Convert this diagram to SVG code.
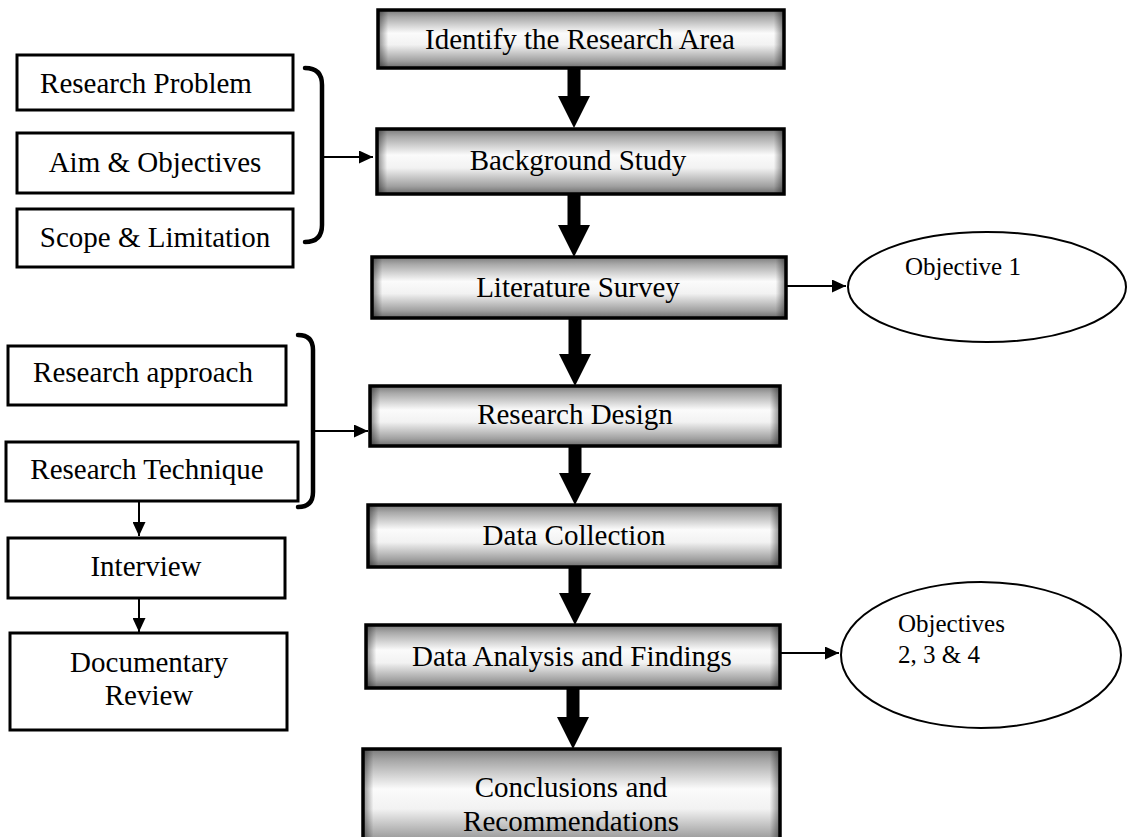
<svg xmlns="http://www.w3.org/2000/svg" width="1130" height="837" viewBox="0 0 1130 837">
<style>
text{font-family:"Liberation Serif","Times New Roman",serif;fill:#000;}
.t{font-size:29px;text-anchor:middle;}
.o{font-size:25px;}
.mb{fill:url(#vg);stroke:#000;stroke-width:3.5;}
.ov{fill:url(#hg);stroke:none;}
.lb{fill:#fff;stroke:#000;stroke-width:3;}
.el{fill:#fff;stroke:#000;stroke-width:2;}
.br{fill:none;stroke:#000;stroke-width:4.5;stroke-linecap:round;}
.ln{fill:none;stroke:#000;stroke-width:2;marker-end:url(#ah);}
.big{fill:#000;}
</style>
<defs>
<linearGradient id="vg" x1="0" y1="0" x2="0" y2="1">
<stop offset="0" stop-color="#7a7a7a"/>
<stop offset="0.12" stop-color="#a9a9a9"/>
<stop offset="0.4" stop-color="#fbfbfb"/>
<stop offset="0.6" stop-color="#f2f2f2"/>
<stop offset="0.88" stop-color="#a0a0a0"/>
<stop offset="1" stop-color="#6a6a6a"/>
</linearGradient>
<linearGradient id="hg" x1="0" y1="0" x2="1" y2="0">
<stop offset="0" stop-color="#000" stop-opacity="0.45"/>
<stop offset="0.025" stop-color="#000" stop-opacity="0"/>
<stop offset="0.975" stop-color="#000" stop-opacity="0"/>
<stop offset="1" stop-color="#000" stop-opacity="0.45"/>
</linearGradient>
<marker id="ah" markerUnits="userSpaceOnUse" markerWidth="14" markerHeight="13" refX="14" refY="6.5" orient="auto">
<path d="M0,0 L14,6.5 L0,13 z" fill="#000"/>
</marker>
</defs>

<g id="connectors">
<polygon class="big" points="567.5,68 580.5,68 580.5,96 590,96 574,128 558,96 567.5,96"/>
<polygon class="big" points="567.5,194 580.5,194 580.5,225 590,225 574,257 558,225 567.5,225"/>
<polygon class="big" points="568.5,318 581.5,318 581.5,354 591,354 575,386 559,354 568.5,354"/>
<polygon class="big" points="568.5,446 581.5,446 581.5,473 591,473 575,505 559,473 568.5,473"/>
<polygon class="big" points="568.5,567 581.5,567 581.5,593 591,593 575,625 559,593 568.5,593"/>
<polygon class="big" points="566.5,688 579.5,688 579.5,717 589,717 573,749 557,717 566.5,717"/>
<path class="br" d="M305,68 Q322,68 322,85 L322,225 Q322,242 305,242"/>
<line class="ln" x1="322" y1="157" x2="373" y2="157"/>
<path class="br" d="M298,335 Q313,335 313,350 L313,492 Q313,507 298,507"/>
<line class="ln" x1="313" y1="431" x2="368" y2="431"/>
<line class="ln" x1="139" y1="502" x2="139" y2="536"/>
<line class="ln" x1="139" y1="599" x2="139" y2="632"/>
<line class="ln" x1="786" y1="286" x2="846" y2="286"/>
<line class="ln" x1="780" y1="653" x2="839" y2="653"/>
</g>

<g id="n-identify">
<rect class="mb" x="378" y="10" width="406" height="58"/>
<rect class="ov" x="378" y="10" width="406" height="58"/>
<text class="t" x="580" y="49">Identify the Research Area</text>
</g>
<g id="n-background">
<rect class="mb" x="377" y="129" width="407" height="65"/>
<rect class="ov" x="377" y="129" width="407" height="65"/>
<text class="t" x="578" y="170">Background Study</text>
</g>
<g id="n-literature">
<rect class="mb" x="372" y="257" width="414" height="61"/>
<rect class="ov" x="372" y="257" width="414" height="61"/>
<text class="t" x="578" y="297">Literature Survey</text>
</g>
<g id="n-design">
<rect class="mb" x="370" y="386" width="410" height="60"/>
<rect class="ov" x="370" y="386" width="410" height="60"/>
<text class="t" x="575" y="424">Research Design</text>
</g>
<g id="n-collection">
<rect class="mb" x="368" y="505" width="412" height="62"/>
<rect class="ov" x="368" y="505" width="412" height="62"/>
<text class="t" x="574" y="545">Data Collection</text>
</g>
<g id="n-analysis">
<rect class="mb" x="366" y="625" width="414" height="63"/>
<rect class="ov" x="366" y="625" width="414" height="63"/>
<text class="t" x="572" y="666">Data Analysis and Findings</text>
</g>
<g id="n-conclusions">
<rect class="mb" x="363" y="749" width="417" height="100"/>
<rect class="ov" x="363" y="749" width="417" height="100"/>
<text class="t" x="571" y="797">Conclusions and</text>
<text class="t" x="571" y="831">Recommendations</text>
</g>

<g id="n-problem">
<rect class="lb" x="17" y="55" width="276" height="55"/>
<text class="t" x="146" y="93">Research Problem</text>
</g>
<g id="n-aim">
<rect class="lb" x="17" y="133" width="276" height="60"/>
<text class="t" x="155" y="172">Aim &amp; Objectives</text>
</g>
<g id="n-scope">
<rect class="lb" x="17" y="209" width="276" height="58"/>
<text class="t" x="155" y="247">Scope &amp; Limitation</text>
</g>
<g id="n-approach">
<rect class="lb" x="8" y="346" width="278" height="59"/>
<text class="t" x="143" y="382">Research approach</text>
</g>
<g id="n-technique">
<rect class="lb" x="6" y="442" width="292" height="59"/>
<text class="t" x="147" y="479">Research Technique</text>
</g>
<g id="n-interview">
<rect class="lb" x="8" y="538" width="277" height="60"/>
<text class="t" x="146" y="576">Interview</text>
</g>
<g id="n-documentary">
<rect class="lb" x="10" y="633" width="277" height="97"/>
<text class="t" x="149" y="672">Documentary</text>
<text class="t" x="149" y="705">Review</text>
</g>

<g id="n-obj1">
<ellipse class="el" cx="987" cy="287" rx="139" ry="55"/>
<text class="o" x="905" y="275">Objective 1</text>
</g>
<g id="n-obj234">
<ellipse class="el" cx="981" cy="655" rx="140" ry="73"/>
<text class="o" x="898" y="632">Objectives</text>
<text class="o" x="898" y="663">2, 3 &amp; 4</text>
</g>
</svg>
